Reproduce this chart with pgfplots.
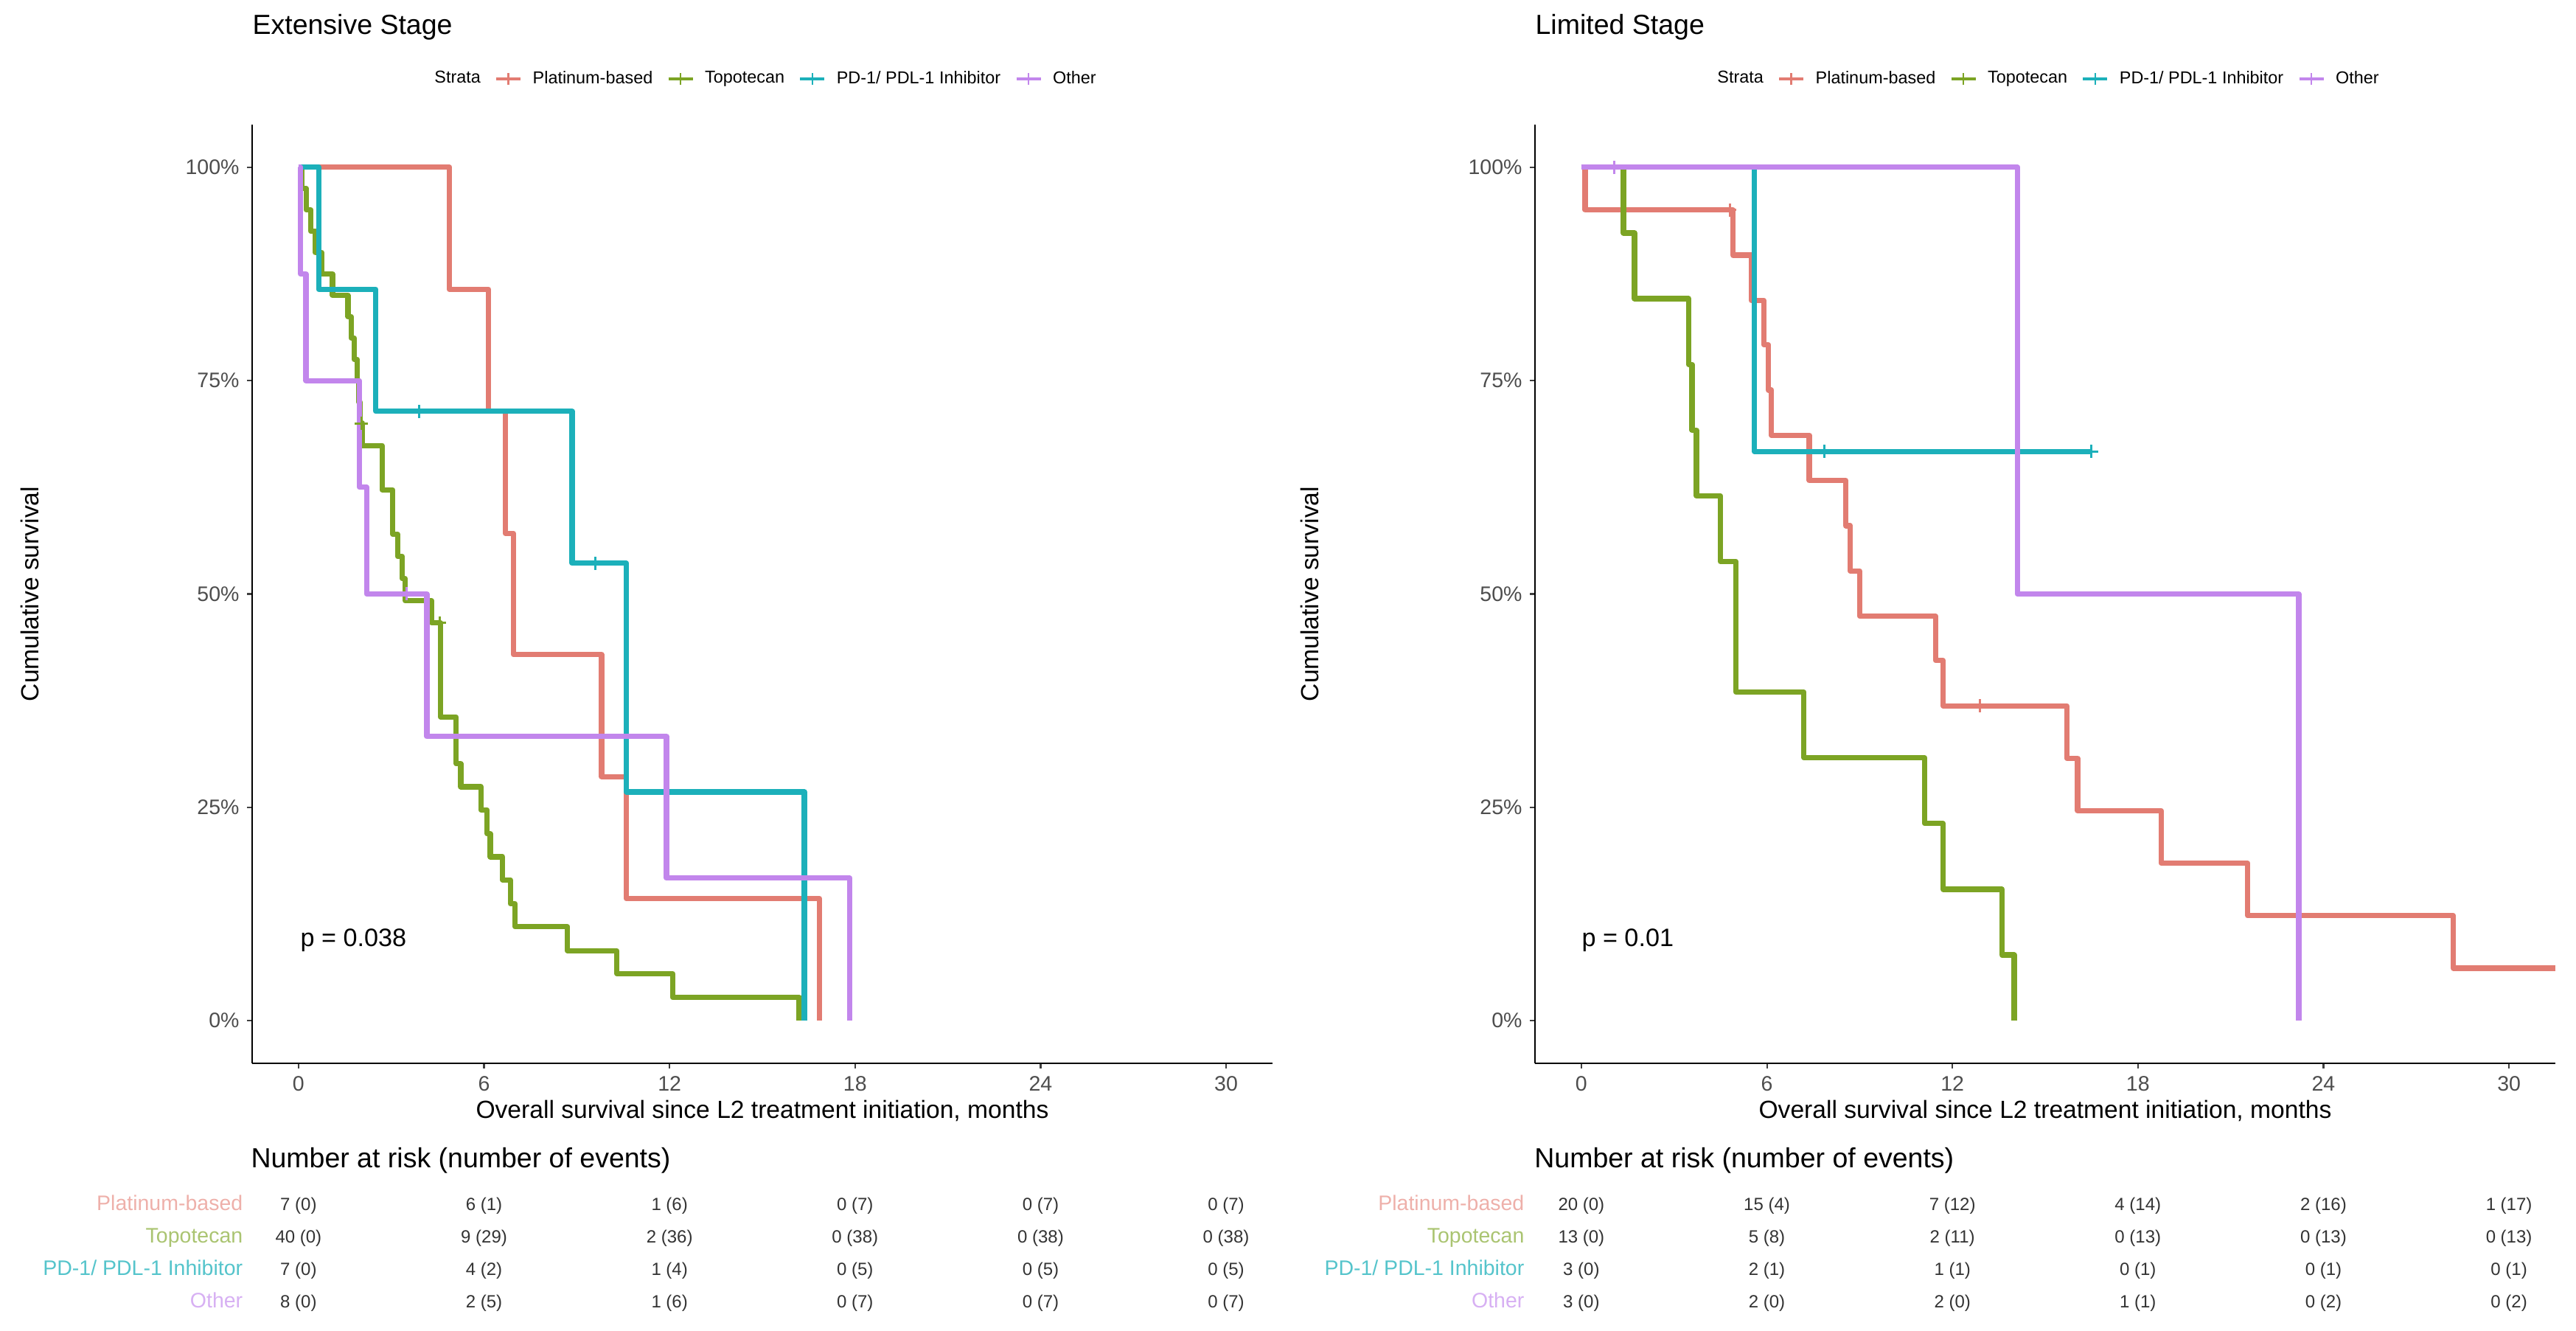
\documentclass[border=0pt]{standalone}
\usepackage{fontspec}
\setmainfont{Liberation Sans}
\usepackage{pgfplots}
\pgfplotsset{compat=1.18}

\definecolor{kmred}{RGB}{226,124,114}
\definecolor{kmgreen}{RGB}{124,164,36}
\definecolor{kmteal}{RGB}{28,176,186}
\definecolor{kmpurple}{RGB}{194,134,236}
\definecolor{ticktext}{RGB}{77,77,77}

\newcommand{\fs}[1]{\fontsize{#1}{#1}\selectfont}

\pgfplotsset{
  legend image code/.code={
    \draw[#1, line width=1.6pt] (0pt,0pt) -- (11pt,0pt);
    \draw[#1, line width=0.9pt] (5.5pt,-2.6pt) -- (5.5pt,2.6pt);
  },
  km/.style={const plot, line width=2.4pt, line join=round, mark=none, forget plot},
  cens/.style={only marks, mark=+, mark size=3pt, mark options={line width=1pt, solid}, forget plot},
  risk/.style={only marks, mark=*, mark size=0pt, mark options={draw=none, fill=none}, forget plot,
    nodes near coords, point meta=explicit symbolic,
    nodes near coords style={anchor=base, inner sep=0pt, font=\fs{8}, text=black!80}},
  kmpanel/.style={
    scale only axis, width=461.333pt, height=424.333pt,
    xmin=-1.5, xmax=31.5, ymin=-0.05, ymax=1.05,
    xtick={0,6,...,30}, ytick={0,0.25,0.5,0.75,1},
    yticklabels={0\%,25\%,50\%,75\%,100\%},
    axis x line*=bottom, axis y line*=left,
    axis line style={-, line width=0.7pt, black},
    tick align=outside, major tick length=2.3pt,
    tick style={line width=0.7pt, black!75},
    ticklabel style={font=\fs{9.5}, text=ticktext},
    /pgf/number format/assume math mode=true,
    clip=false,
    every axis title shift=0pt,
    title style={at={(axis description cs:0,1.096)}, anchor=base west, inner sep=0pt, font=\fs{12.5}},
    xlabel={Overall survival since L2 treatment initiation, months},
    xlabel style={at={(axis description cs:0.5,-0.0589)}, anchor=base, inner sep=0pt, font=\fs{11.2}},
    ylabel={Cumulative survival},
    ylabel style={anchor=center, inner sep=0pt, font=\fs{11.2}},
    legend columns=-1,
    legend style={draw=none, fill=none, at={(0.5,1)}, anchor=center, yshift=20.67pt,
      font=\fs{7.8}, nodes={inner sep=2pt},
      /tikz/every odd column/.append style={column sep=2.7pt},
      /tikz/every even column/.append style={column sep=4.3pt}},
  }
}

\begin{document}
\begin{tikzpicture}
\path[use as bounding box] (0pt,0pt) rectangle (1164.667pt,601.333pt);

% ---------------- Extensive stage ----------------
\begin{axis}[kmpanel, at={(114pt,120.667pt)}, anchor=south west,
  title={Extensive Stage},
  ylabel style={at={(axis description cs:-0.2182,0.5)}}]
\addlegendimage{empty legend}\addlegendentry{Strata}
\addlegendimage{kmred}\addlegendentry{Platinum-based}
\addlegendimage{kmgreen}\addlegendentry{Topotecan}
\addlegendimage{kmteal}\addlegendentry{PD-1/ PDL-1 Inhibitor}
\addlegendimage{kmpurple}\addlegendentry{Other}

\addplot[km, kmred] coordinates {(0,1) (4.88,0.857) (6.15,0.714) (6.69,0.571) (6.95,0.429) (9.8,0.286) (10.6,0.143) (16.85,0)};
\addplot[km, kmgreen] coordinates {(0,1) (0.1,0.975) (0.25,0.95) (0.4,0.925) (0.55,0.9) (0.75,0.875) (1.1,0.85) (1.6,0.825) (1.7,0.8) (1.8,0.775) (1.9,0.75) (1.95,0.725) (2.0,0.7) (2.07,0.674) (2.7,0.622) (3.05,0.57) (3.2,0.544) (3.35,0.518) (3.45,0.492) (4.3,0.466) (4.6,0.356) (5.1,0.301) (5.25,0.274) (5.9,0.247) (6.1,0.219) (6.2,0.192) (6.6,0.165) (6.85,0.137) (7.0,0.11) (8.7,0.082) (10.3,0.055) (12.1,0.027) (16.19,0)};
\addplot[cens, kmgreen] coordinates {(2.03,0.7) (4.56,0.466)};
\addplot[km, kmteal] coordinates {(0,1) (0.65,0.857) (2.5,0.714) (8.85,0.536) (10.6,0.268) (16.36,0)};
\addplot[cens, kmteal] coordinates {(3.9,0.714) (9.6,0.536)};
\addplot[km, kmpurple] coordinates {(0,1) (0.07,0.875) (0.24,0.75) (1.97,0.625) (2.2,0.5) (4.15,0.333) (11.9,0.167) (17.83,0)};
\addplot[cens, kmpurple] coordinates {(3.5,0.5)};

\node[anchor=west, inner sep=0pt, font=\fs{11.4}] at (axis cs:0.05,0.094) {p = 0.038};

% number at risk
\node[anchor=base west, inner sep=0pt, font=\fs{12.5}] at (axis cs:-1.55,-0.172) {Number at risk (number of events)};
\node[anchor=base east, inner sep=0pt, font=\fs{9.5}, text=kmred!60!white] at (axis cs:-1.79,-0.2221) {Platinum-based};
\node[anchor=base east, inner sep=0pt, font=\fs{9.5}, text=kmgreen!65!white] at (axis cs:-1.79,-0.2602) {Topotecan};
\node[anchor=base east, inner sep=0pt, font=\fs{9.5}, text=kmteal!75!white] at (axis cs:-1.79,-0.2982) {PD-1/ PDL-1 Inhibitor};
\node[anchor=base east, inner sep=0pt, font=\fs{9.5}, text=kmpurple!65!white] at (axis cs:-1.79,-0.3362) {Other};
\addplot[risk] coordinates {(0,-0.2221) [7 (0)] (6,-0.2221) [6 (1)] (12,-0.2221) [1 (6)] (18,-0.2221) [0 (7)] (24,-0.2221) [0 (7)] (30,-0.2221) [0 (7)]};
\addplot[risk] coordinates {(0,-0.2602) [40 (0)] (6,-0.2602) [9 (29)] (12,-0.2602) [2 (36)] (18,-0.2602) [0 (38)] (24,-0.2602) [0 (38)] (30,-0.2602) [0 (38)]};
\addplot[risk] coordinates {(0,-0.2982) [7 (0)] (6,-0.2982) [4 (2)] (12,-0.2982) [1 (4)] (18,-0.2982) [0 (5)] (24,-0.2982) [0 (5)] (30,-0.2982) [0 (5)]};
\addplot[risk] coordinates {(0,-0.3362) [8 (0)] (6,-0.3362) [2 (5)] (12,-0.3362) [1 (6)] (18,-0.3362) [0 (7)] (24,-0.3362) [0 (7)] (30,-0.3362) [0 (7)]};
\end{axis}

% ---------------- Limited stage ----------------
\begin{axis}[kmpanel, at={(694pt,120.667pt)}, anchor=south west,
  title={Limited Stage},
  ylabel style={at={(axis description cs:-0.2211,0.5)}}]
\addlegendimage{empty legend}\addlegendentry{Strata}
\addlegendimage{kmred}\addlegendentry{Platinum-based}
\addlegendimage{kmgreen}\addlegendentry{Topotecan}
\addlegendimage{kmteal}\addlegendentry{PD-1/ PDL-1 Inhibitor}
\addlegendimage{kmpurple}\addlegendentry{Other}

\addplot[km, kmred] coordinates {(0,1) (0.12,0.95) (4.9,0.897) (5.5,0.844) (5.9,0.792) (6.05,0.739) (6.15,0.686) (7.37,0.633) (8.55,0.58) (8.7,0.527) (9.0,0.474) (11.45,0.422) (11.7,0.369) (15.7,0.3075) (16.05,0.246) (18.75,0.1845) (21.55,0.123) (28.2,0.0615) (31.5,0.0615)};
\addplot[cens, kmred] coordinates {(4.8,0.95) (12.9,0.369)};
\addplot[km, kmgreen] coordinates {(0,1) (1.36,0.923) (1.72,0.846) (3.47,0.769) (3.58,0.692) (3.72,0.615) (4.5,0.538) (5.0,0.385) (7.2,0.308) (11.1,0.231) (11.7,0.154) (13.6,0.077) (14.0,0)};
\addplot[km, kmteal] coordinates {(0,1) (5.6,0.667) (16.5,0.667)};
\addplot[cens, kmteal] coordinates {(7.87,0.667) (16.5,0.667)};
\addplot[km, kmpurple] coordinates {(0,1) (14.1,0.5) (23.2,0)};
\addplot[cens, kmpurple] coordinates {(1.07,1)};

\node[anchor=west, inner sep=0pt, font=\fs{11.4}] at (axis cs:0,0.094) {p = 0.01};

\node[anchor=base west, inner sep=0pt, font=\fs{12.5}] at (axis cs:-1.53,-0.172) {Number at risk (number of events)};
\node[anchor=base east, inner sep=0pt, font=\fs{9.5}, text=kmred!60!white] at (axis cs:-1.835,-0.2221) {Platinum-based};
\node[anchor=base east, inner sep=0pt, font=\fs{9.5}, text=kmgreen!65!white] at (axis cs:-1.835,-0.2602) {Topotecan};
\node[anchor=base east, inner sep=0pt, font=\fs{9.5}, text=kmteal!75!white] at (axis cs:-1.835,-0.2982) {PD-1/ PDL-1 Inhibitor};
\node[anchor=base east, inner sep=0pt, font=\fs{9.5}, text=kmpurple!65!white] at (axis cs:-1.835,-0.3362) {Other};
\addplot[risk] coordinates {(0,-0.2221) [20 (0)] (6,-0.2221) [15 (4)] (12,-0.2221) [7 (12)] (18,-0.2221) [4 (14)] (24,-0.2221) [2 (16)] (30,-0.2221) [1 (17)]};
\addplot[risk] coordinates {(0,-0.2602) [13 (0)] (6,-0.2602) [5 (8)] (12,-0.2602) [2 (11)] (18,-0.2602) [0 (13)] (24,-0.2602) [0 (13)] (30,-0.2602) [0 (13)]};
\addplot[risk] coordinates {(0,-0.2982) [3 (0)] (6,-0.2982) [2 (1)] (12,-0.2982) [1 (1)] (18,-0.2982) [0 (1)] (24,-0.2982) [0 (1)] (30,-0.2982) [0 (1)]};
\addplot[risk] coordinates {(0,-0.3362) [3 (0)] (6,-0.3362) [2 (0)] (12,-0.3362) [2 (0)] (18,-0.3362) [1 (1)] (24,-0.3362) [0 (2)] (30,-0.3362) [0 (2)]};
\end{axis}
\end{tikzpicture}
\end{document}
